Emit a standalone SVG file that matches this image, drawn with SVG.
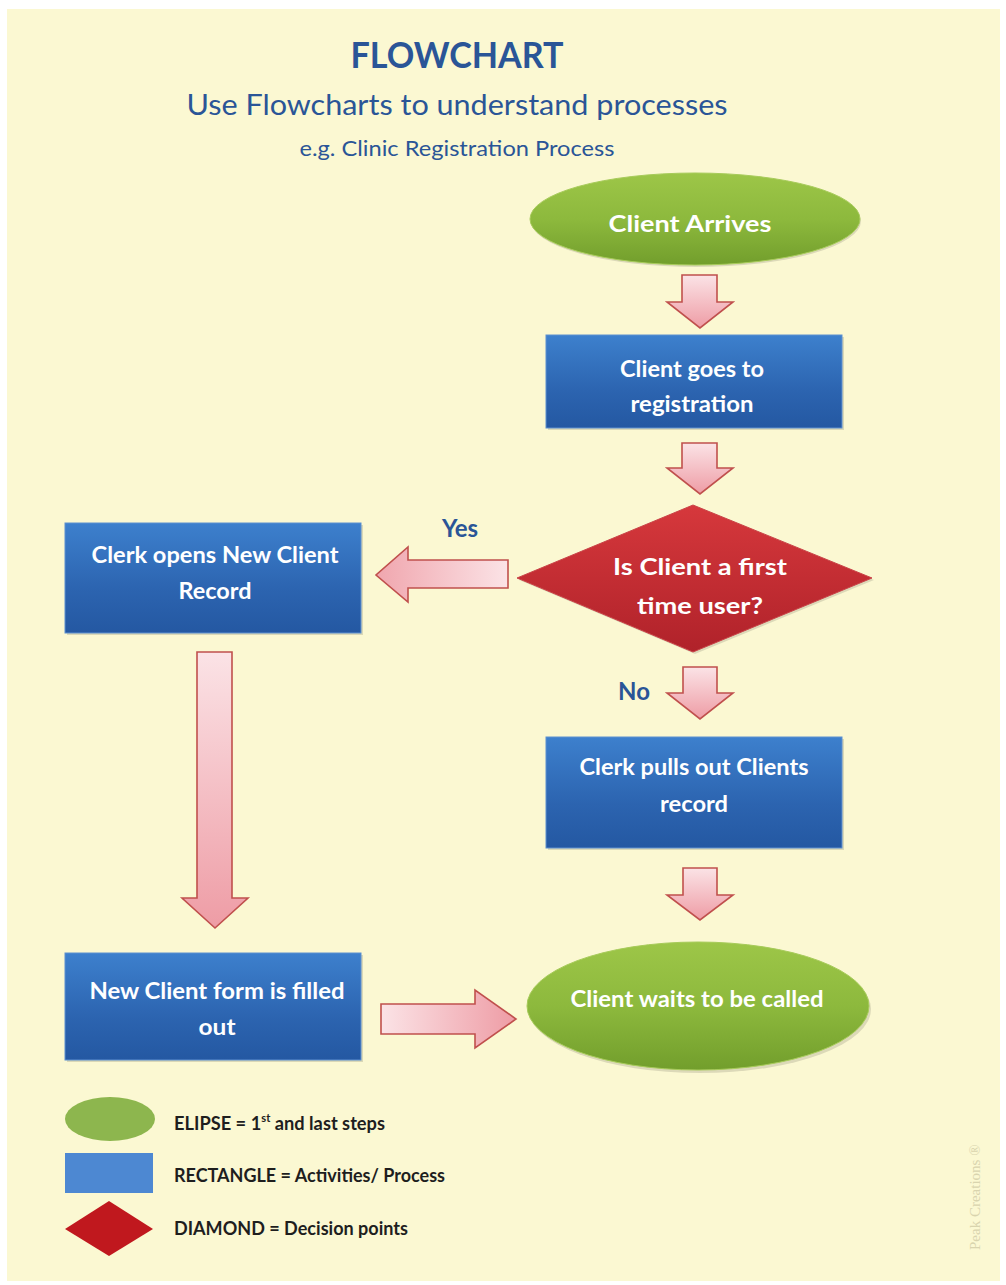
<svg xmlns="http://www.w3.org/2000/svg" width="1006" height="1285" viewBox="0 0 1006 1285">
<defs>
<linearGradient id="gBlue" x1="0" y1="0" x2="0" y2="1">
<stop offset="0" stop-color="#3D80CD"/><stop offset="0.6" stop-color="#2C64B0"/><stop offset="1" stop-color="#2458A2"/>
</linearGradient>
<linearGradient id="gGreen" x1="0" y1="0" x2="0" y2="1">
<stop offset="0" stop-color="#9DC648"/><stop offset="0.5" stop-color="#8DB93D"/><stop offset="1" stop-color="#729E2C"/>
</linearGradient>
<linearGradient id="gRed" x1="0" y1="0" x2="0" y2="1">
<stop offset="0" stop-color="#D6383C"/><stop offset="1" stop-color="#B0222A"/>
</linearGradient>
<linearGradient id="gArrV" x1="0" y1="0" x2="0" y2="1">
<stop offset="0" stop-color="#FBE3E6"/><stop offset="1" stop-color="#EE9CA5"/>
</linearGradient>
<linearGradient id="gArrH" x1="0" y1="0" x2="1" y2="0">
<stop offset="0" stop-color="#FBE3E6"/><stop offset="1" stop-color="#EE9CA5"/>
</linearGradient>
<linearGradient id="gArrL" x1="1" y1="0" x2="0" y2="0">
<stop offset="0" stop-color="#FBE3E6"/><stop offset="1" stop-color="#F0A6AE"/>
</linearGradient>
</defs>
<style>
.t{font-family:Lato,"Open Sans","Liberation Sans",sans-serif;}
.h{fill:#2A5597;text-anchor:middle;}
.w{fill:#FFFFFF;font-weight:bold;text-anchor:middle;font-size:22px;}
.box{fill:url(#gBlue);stroke:#5C8FD0;stroke-width:1;}
.sh{fill:#000;opacity:0.13;}
.arr{stroke:#C0504D;stroke-width:1.6;stroke-linejoin:miter;}
.lab{fill:#2A5597;font-weight:bold;font-size:24px;text-anchor:middle;}
.leg{fill:#1E1E1E;font-weight:bold;font-size:18px;}
</style>
<rect x="0" y="0" width="1006" height="1285" fill="#FFFFFF"/>
<rect x="7" y="9" width="993" height="1272" fill="#FBF8D2"/>

<g id="title" class="t">
<text class="h" x="457" y="68" font-size="36" font-weight="bold" textLength="213" lengthAdjust="spacingAndGlyphs">FLOWCHART</text>
<text class="h" x="457" y="115" font-size="28" textLength="541" lengthAdjust="spacingAndGlyphs">Use Flowcharts to understand processes</text>
<text class="h" x="457" y="156" font-size="21" textLength="315" lengthAdjust="spacingAndGlyphs">e.g. Clinic Registration Process</text>
</g>

<g id="connectors">
<polygon class="arr" fill="url(#gArrV)" points="682,275 717,275 717,302 733,302 700,328 667,302 682,302"/>
<polygon class="arr" fill="url(#gArrV)" points="682,443 717,443 717,468 733,468 700,494 667,468 682,468"/>
<polygon class="arr" fill="url(#gArrV)" points="683,667 717,667 717,693 733,693 700,719 667,693 683,693"/>
<polygon class="arr" fill="url(#gArrV)" points="683,868 717,868 717,895 733,895 700,920 667,895 683,895"/>
<polygon class="arr" fill="url(#gArrV)" points="197,652 232,652 232,898 248,898 215,928 182,898 197,898"/>
<polygon class="arr" fill="url(#gArrL)" points="508,560 508,588 408,588 408,602 376,575 408,547 408,560"/>
<polygon class="arr" fill="url(#gArrH)" points="381,1004 475,1004 475,990 516,1019 475,1048 475,1034 381,1034"/>
<text class="t lab" x="460" y="537">Yes</text>
<text class="t lab" x="634" y="700">No</text>
</g>

<g id="start">
<ellipse cx="696" cy="221" rx="165" ry="46" fill="#000" opacity="0.12"/>
<ellipse cx="695" cy="219" rx="165" ry="46" fill="url(#gGreen)" stroke="#A7CB5A" stroke-width="1"/>
<text class="t w" x="690" y="232" font-size="25" textLength="163" lengthAdjust="spacingAndGlyphs">Client Arrives</text>
</g>

<g id="registration">
<rect class="sh" x="548" y="337" width="296" height="93"/>
<rect class="box" x="546" y="335" width="296" height="93"/>
<text class="t w" x="692" y="377" textLength="144" lengthAdjust="spacingAndGlyphs">Client goes to</text>
<text class="t w" x="692" y="412" textLength="123" lengthAdjust="spacingAndGlyphs">registration</text>
</g>

<g id="decision">
<polygon points="519,580 695,507 874,580 695,654" fill="#000" opacity="0.12"/>
<polygon points="517,578 693,505 872,578 693,652" fill="url(#gRed)" stroke="#C94448" stroke-width="1"/>
<text class="t w" x="700" y="575" font-size="24" textLength="174" lengthAdjust="spacingAndGlyphs">Is Client a first</text>
<text class="t w" x="700" y="614" font-size="24" textLength="126" lengthAdjust="spacingAndGlyphs">time user?</text>
</g>

<g id="newrecord">
<rect class="sh" x="67" y="525" width="296" height="110"/>
<rect class="box" x="65" y="523" width="296" height="110"/>
<text class="t w" x="215" y="563" textLength="247" lengthAdjust="spacingAndGlyphs">Clerk opens New Client</text>
<text class="t w" x="215" y="599" textLength="73" lengthAdjust="spacingAndGlyphs">Record</text>
</g>

<g id="pullrecord">
<rect class="sh" x="548" y="739" width="296" height="111"/>
<rect class="box" x="546" y="737" width="296" height="111"/>
<text class="t w" x="694" y="775" textLength="229" lengthAdjust="spacingAndGlyphs">Clerk pulls out Clients</text>
<text class="t w" x="694" y="812" textLength="68" lengthAdjust="spacingAndGlyphs">record</text>
</g>

<g id="formfilled">
<rect class="sh" x="67" y="955" width="296" height="107"/>
<rect class="box" x="65" y="953" width="296" height="107"/>
<text class="t w" x="217" y="999" textLength="255" lengthAdjust="spacingAndGlyphs">New Client form is filled</text>
<text class="t w" x="217" y="1035" textLength="37" lengthAdjust="spacingAndGlyphs">out</text>
</g>

<g id="end">
<ellipse cx="700" cy="1009" rx="171" ry="64" fill="#000" opacity="0.12"/>
<ellipse cx="698" cy="1006" rx="171" ry="64" fill="url(#gGreen)" stroke="#A7CB5A" stroke-width="1"/>
<text class="t w" x="697" y="1007" textLength="253" lengthAdjust="spacingAndGlyphs">Client waits to be called</text>
</g>

<g id="legend" class="t">
<ellipse cx="110" cy="1119" rx="45" ry="22" fill="#8DB64E"/>
<text class="leg" x="174" y="1130" textLength="211" lengthAdjust="spacingAndGlyphs">ELIPSE = 1<tspan font-size="11" dy="-8">st</tspan><tspan dy="8"> and last steps</tspan></text>
<rect x="65" y="1153" width="88" height="40" fill="#4D88D2"/>
<text class="leg" x="174" y="1182" textLength="271" lengthAdjust="spacingAndGlyphs">RECTANGLE = Activities/ Process</text>
<polygon points="65,1229 109,1201 153,1229 109,1256" fill="#C0181E"/>
<text class="leg" x="174" y="1235" textLength="234" lengthAdjust="spacingAndGlyphs">DIAMOND = Decision points</text>
</g>

<g id="watermark">
<text x="980" y="1250" transform="rotate(-90 980 1250)" font-family="'Liberation Serif',serif" font-size="15" fill="#D9D4AE">Peak Creations ®</text>
</g>
</svg>
